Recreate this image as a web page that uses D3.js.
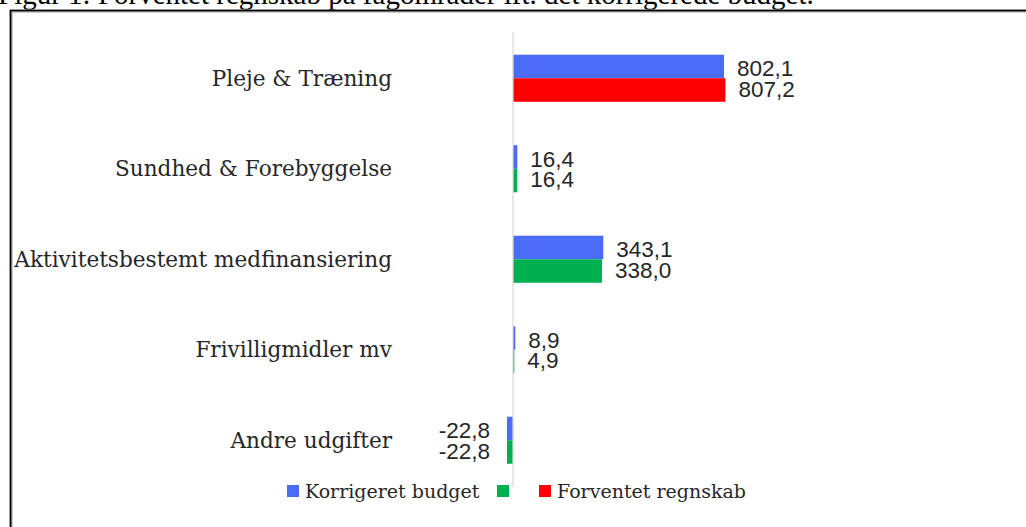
<!DOCTYPE html>
<html>
<head>
<meta charset="utf-8">
<script src="https://cdn.jsdelivr.net/npm/d3@7"></script>
<style>
  body { margin: 0; background: #fff; }
  svg { display: block; }
</style>
</head>
<body>
<div id="chart"></div>
<script>
const categories = ["Pleje & Træning", "Sundhed & Forebyggelse", "Aktivitetsbestemt medfinansiering", "Frivilligmidler mv", "Andre udgifter"];
const budget = [802.1, 16.4, 343.1, 8.9, -22.8];
const regnskab = [807.2, 16.4, 338.0, 4.9, -22.8];
const regnskabColors = ["#ff0000", "#00b050", "#00b050", "#00b050", "#00b050"];
const legendItems = [
  { label: "Korrigeret budget", color: "#4a6cf7" },
  { label: "", color: "#00b050" },
  { label: "Forventet regnskab", color: "#ff0000" }
];
const title = "Figur 1: Forventet regnskab på fagområder ift. det korrigerede budget.";

const w = 1026, h = 527;
const fmt = v => d3.format(".1f")(v).replace(".", ",").replace("\u2212", "-");

let svg = d3.select("#chart").append("svg").attr("width", w).attr("height", h);

// title, cut off at the top like the source
svg.append("text")
  .attr("x", -2).attr("y", 4)
  .attr("font-family", "Liberation Serif, serif")
  .attr("font-size", 29)
  .attr("fill", "#000")
  .text(title);

// frame
svg.append("path").attr("d", `M11,${h} V11 H${w}`)
  .attr("fill", "none").attr("stroke", "#999").attr("stroke-width", 3);
svg.append("path").attr("d", `M10.5,${h} V10.5 H${w}`)
  .attr("fill", "none").attr("stroke", "#000").attr("stroke-width", 1.5);

let x = d3.scaleLinear().domain([0, 800]).range([513, 723.5]);
let y0 = d3.scaleBand().domain(categories).range([33, 485.5]).paddingInner(0.48).paddingOuter(0.24);
let y1 = d3.scaleBand().domain(["budget", "regnskab"]).range([0, y0.bandwidth()]);

let rows = categories.map((c, i) => ({
  cat: c,
  vals: [
    { key: "budget", v: budget[i], color: "#4a6cf7" },
    { key: "regnskab", v: regnskab[i], color: regnskabColors[i] }
  ]
}));

let groups = svg.append("g").selectAll("g").data(rows).enter()
  .append("g").attr("transform", d => `translate(0,${y0(d.cat)})`);

groups.selectAll("rect").data(d => d.vals).enter()
  .append("rect")
  .attr("x", d => x(Math.min(0, d.v)))
  .attr("width", d => Math.abs(x(d.v) - x(0)))
  .attr("y", d => y1(d.key))
  .attr("height", y1.bandwidth())
  .attr("fill", d => d.color);

groups.selectAll("text.val").data(d => d.vals).enter()
  .append("text").attr("class", "val")
  .attr("x", d => d.v < 0 ? x(d.v) - 17 : x(d.v) + 13)
  .attr("y", d => y1(d.key) + y1.bandwidth() / 2 + (d.key === "budget" ? 2 : -1))
  .attr("dy", "0.35em")
  .attr("text-anchor", d => d.v < 0 ? "end" : "start")
  .attr("font-family", "Liberation Sans, Arial, sans-serif")
  .attr("font-size", 22.5)
  .attr("fill", "#262626")
  .text(d => fmt(d.v));

// vertical zero axis
svg.append("line")
  .attr("x1", x(0)).attr("x2", x(0)).attr("y1", 32).attr("y2", 487)
  .attr("stroke", "#d9d9d9").attr("stroke-width", 1.2);

// category labels
svg.append("g").selectAll("text").data(categories).enter()
  .append("text")
  .attr("x", 392)
  .attr("y", d => y0(d) + y0.bandwidth() / 2)
  .attr("dy", "0.35em")
  .attr("text-anchor", "end")
  .attr("font-family", "DejaVu Serif, serif")
  .attr("font-size", 21.6)
  .attr("fill", "#262626")
  .text(d => d);

// legend
let legendX = [287, 497, 539];
let legend = svg.append("g").selectAll("g").data(legendItems).enter()
  .append("g").attr("transform", (d, i) => `translate(${legendX[i]},485)`);
legend.append("rect").attr("width", 12).attr("height", 12).attr("fill", d => d.color);
legend.append("text")
  .attr("x", 18).attr("y", 6).attr("dy", "0.35em")
  .attr("font-family", "DejaVu Serif, serif")
  .attr("font-size", 19)
  .attr("fill", "#262626")
  .text(d => d.label);
</script>
</body>
</html>
